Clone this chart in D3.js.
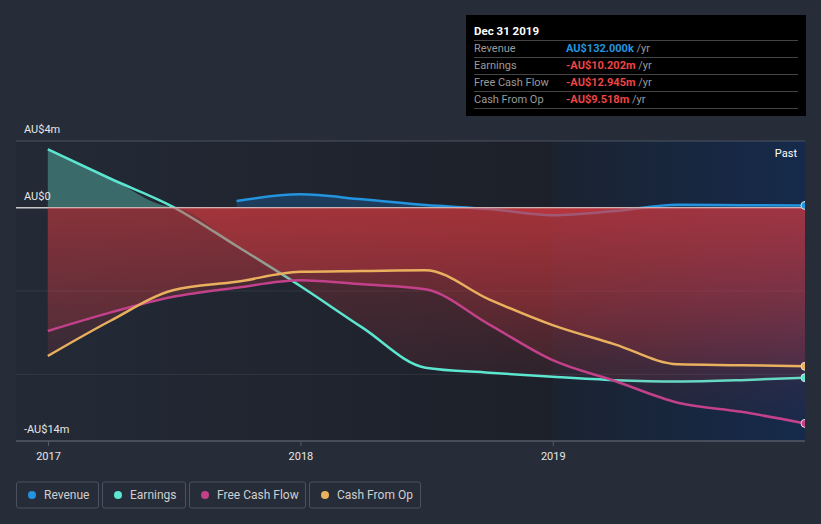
<!DOCTYPE html>
<html>
<head>
<meta charset="utf-8">
<script src="https://cdn.jsdelivr.net/npm/d3@7"></script>
<style>
  body { margin: 0; background: #262c38; }
  svg { display: block; font-family: Roboto, "Noto Sans", sans-serif; }
</style>
</head>
<body>
<div id="chart"></div>
<script>
// values in AU$ millions
var revDates = ['2017-09-30', '2017-12-31', '2018-03-31', '2018-06-30', '2018-09-30', '2018-12-31', '2019-03-31', '2019-06-30', '2019-09-30', '2019-12-31'];
var revenue = [0.4, 0.8, 0.5, 0.16, -0.08, -0.45, -0.2, 0.18, 0.15, 0.132];

var dates = ['2016-12-31', '2017-03-31', '2017-06-30', '2017-09-30', '2017-12-31', '2018-03-31', '2018-06-30', '2018-09-30', '2018-12-31', '2019-03-31', '2019-06-30', '2019-09-30', '2019-12-31'];
var earnings = [3.5, 1.75, 0.05, -2.3, -4.7, -7.2, -9.6, -9.9, -10.15, -10.35, -10.43, -10.35, -10.202];
var freeCashFlow = [-7.4, -6.3, -5.35, -4.8, -4.35, -4.6, -4.9, -7.0, -9.15, -10.4, -11.7, -12.25, -12.945];
var cashFromOp = [-8.9, -6.8, -4.95, -4.45, -3.85, -3.8, -3.75, -5.5, -7.05, -8.2, -9.4, -9.45, -9.518];

var yTicks = [4, 0, -14];
var yLabels = ['AU$4m', 'AU$0', '-AU$14m'];
var xTicks = ['2017-01-01', '2018-01-01', '2019-01-01'];
var xLabels = ['2017', '2018', '2019'];

var tipTitle = 'Dec 31 2019';
var tipNames = ['Revenue', 'Earnings', 'Free Cash Flow', 'Cash From Op'];
var tipValues = ['AU$132.000k', '-AU$10.202m', '-AU$12.945m', '-AU$9.518m'];

var names = ['Revenue', 'Earnings', 'Free Cash Flow', 'Cash From Op'];
var colors = ['#2394df', '#5ce6cf', '#c2418a', '#e9b05e'];

var W = 821, H = 524;
var pL = 16, pR = 805, pT = 141, pB = 441;
var parse = d3.timeParse('%Y-%m-%d');

var x = d3.scaleTime()
  .domain([parse('2016-11-15'), parse('2019-12-31')])
  .range([pL, pR]);
var y = d3.scaleLinear().domain([-14, 4]).range([pB, pT]);

var svg = d3.select('#chart').append('svg')
  .attr('width', W)
  .attr('height', H);

var defs = svg.append('defs');
defs.append('clipPath').attr('id', 'plot')
  .append('rect').attr('x', pL).attr('y', pT)
  .attr('width', pR - pL).attr('height', pB - pT);

var g1 = defs.append('linearGradient').attr('id', 'bgLeft');
g1.append('stop').attr('offset', 0).attr('stop-color', '#232a36');
g1.append('stop').attr('offset', 1).attr('stop-color', '#1d2029');
var g2 = defs.append('linearGradient').attr('id', 'bgRight');
g2.append('stop').attr('offset', 0).attr('stop-color', '#1b2331');
g2.append('stop').attr('offset', 1).attr('stop-color', '#152a4b');

var neg = defs.append('linearGradient').attr('id', 'neg')
  .attr('gradientUnits', 'userSpaceOnUse')
  .attr('x1', 0).attr('x2', 0).attr('y1', y(0)).attr('y2', y(-14));
neg.append('stop').attr('offset', 0).attr('stop-color', '#de3a40').attr('stop-opacity', 0.32);
neg.append('stop').attr('offset', 1).attr('stop-color', '#de3a40').attr('stop-opacity', 0.0);

// plot background
var x19 = x(parse('2019-01-01'));
svg.append('rect')
  .attr('x', pL).attr('y', pT)
  .attr('width', x19 - pL).attr('height', pB - pT)
  .style('fill', 'url(#bgLeft)');
svg.append('rect')
  .attr('x', x19).attr('y', pT)
  .attr('width', pR - x19).attr('height', pB - pT)
  .style('fill', 'url(#bgRight)');

// grid
[-5, -10].forEach(function(v) {
  svg.append('line')
    .attr('x1', pL).attr('x2', pR)
    .attr('y1', y(v)).attr('y2', y(v))
    .style('stroke', '#ffffff').style('stroke-opacity', 0.08);
});
svg.append('line')
  .attr('x1', pL).attr('x2', pR)
  .attr('y1', y(4)).attr('y2', y(4))
  .style('stroke', '#4b5262');

var plot = svg.append('g').attr('clip-path', 'url(#plot)');

function pts(ds, vs) {
  return ds.map(function(d, i) { return { t: parse(d), v: vs[i] }; });
}
var line = d3.line().curve(d3.curveMonotoneX)
  .x(function(d) { return x(d.t); })
  .y(function(d) { return y(d.v); });

function area(above) {
  return d3.area().curve(d3.curveMonotoneX)
    .x(function(d) { return x(d.t); })
    .y0(y(0))
    .y1(function(d) { return above ? y(Math.max(d.v, 0)) : y(Math.min(d.v, 0)); });
}

var series = [
  pts(revDates, revenue),
  pts(dates, earnings),
  pts(dates, freeCashFlow),
  pts(dates, cashFromOp)
];
var posFill = ['#1e3c5c', '#3b6a6b'];

// revenue and earnings: areas + lines, drawn below the cash flow areas
for (var i = 0; i < 2; i++) {
  plot.append('path').attr('d', area(true)(series[i]))
    .style('fill', posFill[i]);
  plot.append('path').attr('d', area(false)(series[i]))
    .style('fill', 'url(#neg)');
  plot.append('path').attr('d', line(series[i]))
    .style('fill', 'none').style('stroke', colors[i]).style('stroke-width', 2.5);
}

// zero line
plot.append('line')
  .attr('x1', pL).attr('x2', pR)
  .attr('y1', y(0)).attr('y2', y(0))
  .style('stroke', '#c8c8c8').style('stroke-width', 1.5);

for (var i = 2; i < 4; i++) {
  plot.append('path').attr('d', area(false)(series[i]))
    .style('fill', 'url(#neg)');
}
for (var i = 2; i < 4; i++) {
  plot.append('path').attr('d', line(series[i]))
    .style('fill', 'none').style('stroke', colors[i]).style('stroke-width', 2.5);
}

// end dots
for (var i = 0; i < 4; i++) {
  var last = series[i][series[i].length - 1];
  plot.append('circle')
    .attr('cx', x(last.t)).attr('cy', y(last.v)).attr('r', 4)
    .style('fill', colors[i]).style('stroke', '#dddddd').style('stroke-width', 1);
}

// y labels
yTicks.forEach(function(v, i) {
  svg.append('text')
    .attr('x', 24).attr('y', y(v) - 8)
    .style('fill', '#e6e6e6').style('font-size', '11px')
    .text(yLabels[i]);
});

// x axis
svg.append('line')
  .attr('x1', pL).attr('x2', pR)
  .attr('y1', pB).attr('y2', pB)
  .style('stroke', '#545b67').style('stroke-width', 1.5);
xTicks.forEach(function(d, i) {
  var xx = x(parse(d));
  svg.append('line')
    .attr('x1', xx).attr('x2', xx).attr('y1', pB).attr('y2', pB + 5)
    .style('stroke', '#545b67');
  svg.append('text')
    .attr('x', xx).attr('y', 460)
    .attr('text-anchor', 'middle')
    .style('fill', '#e6e6e6').style('font-size', '11px')
    .text(xLabels[i]);
});

svg.append('text')
  .attr('x', 797).attr('y', 157)
  .attr('text-anchor', 'end')
  .style('fill', '#ffffff').style('font-size', '11px')
  .text('Past');

// tooltip box
var tip = svg.append('g');
tip.append('rect')
  .attr('x', 466).attr('y', 15).attr('width', 340).attr('height', 101)
  .style('fill', '#000000');
tip.append('text')
  .attr('x', 474).attr('y', 34.5)
  .style('fill', '#ffffff').style('font-size', '11.5px').style('font-weight', 'bold')
  .text(tipTitle);
for (var i = 0; i < 5; i++) {
  tip.append('line')
    .attr('x1', 474).attr('x2', 798)
    .attr('y1', 40.5 + i * 17).attr('y2', 40.5 + i * 17)
    .style('stroke', '#444444');
}
tipNames.forEach(function(n, i) {
  var yy = 52 + i * 17;
  tip.append('text')
    .attr('x', 474).attr('y', yy)
    .style('fill', '#9a9a9a').style('font-size', '11px')
    .text(n);
  var t = tip.append('text')
    .attr('x', 566).attr('y', yy)
    .style('font-size', '11px');
  t.append('tspan')
    .style('fill', i == 0 ? '#2394df' : '#ef4444').style('font-weight', 'bold')
    .text(tipValues[i]);
  t.append('tspan')
    .style('fill', '#9a9a9a')
    .text(' /yr');
});

// legend
var legX = [16, 102, 189, 309];
var legW = [82, 83, 116, 111];
names.forEach(function(n, i) {
  var lg = svg.append('g').attr('transform', 'translate(' + legX[i] + ',481.5)');
  lg.append('rect')
    .attr('x', 0.5).attr('y', 0.5).attr('width', legW[i]).attr('height', 26).attr('rx', 2)
    .style('fill', 'none').style('stroke', '#4a5160');
  lg.append('circle')
    .attr('cx', 16).attr('cy', 13.5).attr('r', 4)
    .style('fill', colors[i]);
  lg.append('text')
    .attr('x', 28).attr('y', 17.5)
    .style('fill', '#cfcfcf').style('font-size', '12px')
    .text(n);
});
</script>
</body>
</html>
